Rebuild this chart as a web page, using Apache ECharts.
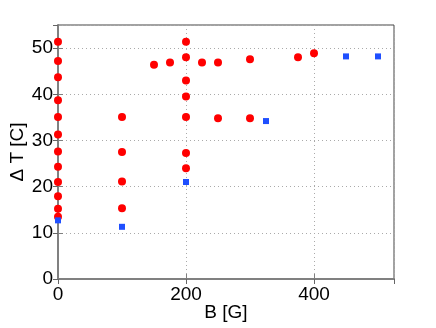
<!DOCTYPE html>
<html>
<head>
<meta charset="utf-8">
<script src="https://cdn.jsdelivr.net/npm/echarts@6/dist/echarts.min.js"></script>
<style>
  html, body { margin: 0; padding: 0; background: #fff; }
  #chart { width: 436px; height: 328px; }
</style>
</head>
<body>
<div id="chart"></div>
<script>
// Data
var redB = [0, 0, 0, 0, 0, 0, 0, 0, 0, 0, 0, 0,
            100, 100, 100, 100,
            200, 200, 200, 200, 200, 200, 200,
            150, 175, 225, 250, 300, 375, 400,
            250, 300];
var redT = [51.4, 47.2, 43.7, 38.7, 35.1, 31.3, 27.6, 24.3, 21.0, 17.9, 15.2, 13.5,
            35.1, 27.5, 21.1, 15.3,
            51.4, 48.0, 43.0, 39.5, 35.1, 27.3, 24.0,
            46.4, 46.9, 46.9, 46.9, 47.6, 48.0, 48.9,
            34.8, 34.8];
var blueB = [0, 100, 200, 325, 450, 500];
var blueT = [12.7, 11.3, 21.0, 34.2, 48.2, 48.2];

var xTicks = { min: 0, max: 525, interval: 200 };
var yTicks = { min: 0, max: 55, interval: 10 };

function pairs(xs, ys) {
    return xs.map(function(x, i) { return [x, ys[i]]; });
}

var chart = echarts.init(document.getElementById('chart'), null, { renderer: 'canvas' });

var fontBase = { fontFamily: 'Liberation Sans, Arial, sans-serif', fontSize: 19, color: '#000' };

chart.setOption({
    animation: false,
    grid: {
        left: 58, right: 42, top: 25, bottom: 49,
        outerBoundsMode: 'none', containLabel: false,
        show: true, borderColor: '#444', borderWidth: 1
    },
    xAxis: [{
        type: 'value',
        min: xTicks.min, max: xTicks.max, interval: xTicks.interval,
        name: 'B [G]', nameLocation: 'middle', nameGap: 24, nameMoveOverlap: false,
        nameTextStyle: fontBase,
        axisLine: { show: true, lineStyle: { color: '#808080', width: 2 } },
        axisTick: { show: true, inside: true, length: 5, lineStyle: { color: '#808080' } },
        axisLabel: Object.assign({ margin: 6, showMaxLabel: false }, fontBase),
        splitLine: { show: true, lineStyle: { color: '#aaa', type: [1, 3] } }
    }, {
        type: 'value', position: 'top',
        min: xTicks.min, max: xTicks.max, interval: xTicks.interval,
        axisLine: { show: false },
        axisTick: { show: true, inside: true, length: 5, lineStyle: { color: '#666' } },
        axisLabel: { show: false },
        splitLine: { show: false }
    }],
    yAxis: [{
        type: 'value',
        min: yTicks.min, max: yTicks.max, interval: yTicks.interval,
        name: 'Δ T [C]', nameLocation: 'middle', nameGap: 31, nameMoveOverlap: false,
        nameTextStyle: fontBase,
        axisLine: { show: true, lineStyle: { color: '#808080', width: 2 } },
        axisTick: { show: true, inside: true, length: 5, lineStyle: { color: '#808080' } },
        axisLabel: Object.assign({ margin: 5, showMaxLabel: false }, fontBase),
        splitLine: { show: true, lineStyle: { color: '#aaa', type: [1, 3] } }
    }, {
        type: 'value', position: 'right',
        min: yTicks.min, max: yTicks.max, interval: yTicks.interval,
        axisLine: { show: true, lineStyle: { color: '#808080', width: 1 } },
        axisTick: { show: true, inside: true, length: 5, lineStyle: { color: '#666' } },
        axisLabel: { show: false },
        splitLine: { show: false }
    }],
    series: [{
        type: 'scatter',
        data: pairs(redB, redT),
        symbol: 'circle',
        symbolSize: 8,
        itemStyle: { color: '#ff0000', opacity: 1 }
    }, {
        type: 'scatter',
        data: pairs(blueB, blueT),
        symbol: 'rect',
        symbolSize: 6,
        itemStyle: { color: '#1f4fff', opacity: 1 }
    }]
});
</script>
</body>
</html>
